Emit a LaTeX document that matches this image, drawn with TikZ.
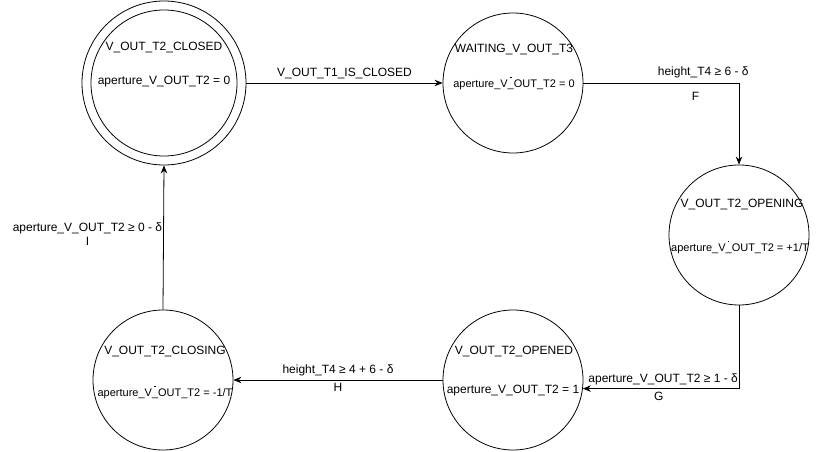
\documentclass[tikz,border=0pt]{standalone}
\usepackage{fontspec}
\setmainfont{Liberation Sans}
\usepackage{tikz}
\usetikzlibrary{arrows.meta}
\newcommand{\dotus}{\makebox[0pt][l]{\makebox[0.556em]{\raisebox{9pt}{\rule{1.4pt}{1.4pt}}}}\_}

\begin{document}
\begin{tikzpicture}[x = 1pt, y = -1pt, >= {Stealth[length=8pt, width=6.5pt]}, line width = 0.8pt,
        state/.style = {draw, circle, minimum size = 140pt, inner sep = 0pt},
        txt/.style = {font = \fontsize{12}{14}\selectfont, inner sep = 0pt},
        smalltxt/.style = {font = \fontsize{11}{13}\selectfont, inner sep = 0pt},
        lbl/.style = {font = \fontsize{12}{14.5}\selectfont}]
        \useasboundingbox (0, 0) rectangle (820, 452);
        % states
        \node[state, minimum size = 164pt] (closed) at (164, 83) {};
        \node[state, minimum size = 146pt] (closedring) at (164, 83) {};
        \node[state] (waiting) at (513, 83) {};
        \node[state] (opening) at (739, 235) {};
        \node[state] (opened) at (513, 380) {};
        \node[state] (closing) at (163, 380) {};
        % state texts
        \node[txt] (closedname) at (164, 48) {V\_OUT\_T2\_CLOSED};
        \node[txt] (closedrate) at (164, 82) {aperture\_V\_OUT\_T2 = 0};
        \node[txt] (waitingname) at (514, 50) {WAITING\_V\_OUT\_T3};
        \node[smalltxt] (waitingrate) at (514, 83) {aperture\_V\dotus OUT\_T2 = 0};
        \node[txt] (openingname) at (742, 205) {V\_OUT\_T2\_OPENING};
        \node[smalltxt] (openingrate) at (740, 247) {aperture\_V\dotus OUT\_T2 = +1/T};
        \node[txt] (openedname) at (514, 352) {V\_OUT\_T2\_OPENED};
        \node[txt] (openedrate) at (513, 391) {aperture\_V\_OUT\_T2 = 1};
        \node[txt] (closingname) at (165, 352) {V\_OUT\_T2\_CLOSING};
        \node[smalltxt] (closingrate) at (165, 392) {aperture\_V\dotus OUT\_T2 = -1/T};
        % transitions
        \draw[->] (closed) -- (waiting) node[lbl, midway, above] {V\_OUT\_T1\_IS\_CLOSED};
        \draw[->] (waiting.east) -| (opening.north)
                node[lbl, pos = 0.385, above, yshift = 1.5pt] {height\_T4 ≥ 6 - δ}
                node[lbl, pos = 0.36, below, yshift = -6pt] {F};
        \draw[->] (opening.south) |- (opened.-7)
                node[lbl, pos = 0.743, above] {aperture\_V\_OUT\_T2 ≥ 1 - δ}
                node[lbl, pos = 0.757, below] {G};
        \draw[->] (opened) -- (closing)
                node[lbl, midway, above] {height\_T4 ≥ 4 + 6 - δ}
                node[lbl, midway, below] {H};
        \draw[->] (closing.north) -- (closed.south)
                node[lbl, pos = 0.524, left, align = center, inner sep = 1pt] {aperture\_V\_OUT\_T2 ≥ 0 - δ\\I};
      \end{tikzpicture}
\end{document}
